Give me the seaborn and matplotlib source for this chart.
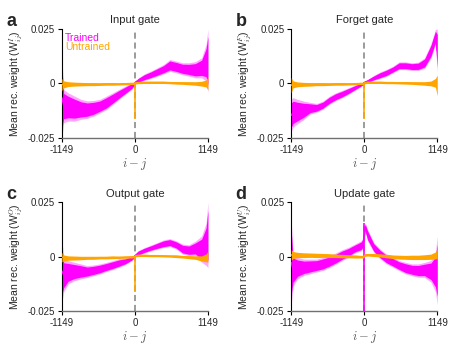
import numpy as np
import pandas as pd
import matplotlib
matplotlib.use("Agg")
import matplotlib.pyplot as plt
import seaborn as sns

x = [-1149, -1120, -1050, -950, -850, -750, -650, -550, -450, -350, -250, -150, -50, -15,
     15, 50, 150, 250, 350, 450, 550, 650, 750, 850, 950, 1050, 1120, 1149]

# trained: band low / high per gate
tr_lo = {
    "I": [-0.025, -0.018, -0.0173, -0.0173, -0.0165, -0.016, -0.015, -0.0135, -0.012, -0.0097, -0.0073,
          -0.005, -0.0027, -0.0012, 0.0004, 0.0003, 0.0014, 0.0023, 0.0033, 0.0044, 0.0056, 0.0049, 0.004,
          0.0034, 0.0026, 0.0026, 0.0011, -0.004],
    "F": [-0.022, -0.02, -0.0185, -0.0165, -0.014, -0.0132, -0.0118, -0.0096, -0.0079, -0.0066, -0.005,
          -0.0032, -0.0014, -0.0006, 0.0002, 0.0003, 0.0014, 0.0023, 0.0033, 0.0049, 0.0064, 0.0064, 0.006,
          0.006, 0.007, 0.0117, 0.018, 0.005],
    "O": [-0.021, -0.016, -0.0125, -0.011, -0.0102, -0.0095, -0.0087, -0.0079, -0.0068, -0.0059, -0.0048,
          -0.0036, -0.0018, -0.0008, 0.0001, 0.0005, 0.0017, 0.0027, 0.0035, 0.0042, 0.0047, 0.0035, 0.0012,
          0.0005, 0.0005, -0.0025, -0.004, -0.005],
    "U": [-0.022, -0.0135, -0.0102, -0.0086, -0.0078, -0.007, -0.0063, -0.005, -0.0035, -0.0018, -0.0003,
          0.0017, 0.0027, 0.004, 0.012, 0.0073, 0.002, -0.001, -0.0033, -0.0048, -0.0064, -0.0079, -0.0087,
          -0.0094, -0.0095, -0.0117, -0.016, -0.022],
}
tr_hi = {
    "I": [0.012, -0.0028, -0.0043, -0.0058, -0.0073, -0.008, -0.0078, -0.0073, -0.0058, -0.0043, -0.0027,
          -0.0012, 0.0003, 0.0004, 0.0012, 0.0025, 0.0044, 0.0057, 0.0072, 0.0087, 0.0110, 0.0103, 0.0095,
          0.0095, 0.01, 0.0118, 0.018, 0.025],
    "F": [-0.0073, -0.0065, -0.0073, -0.0081, -0.0087, -0.0092, -0.0081, -0.0059, -0.0043, -0.0032, -0.002,
          -0.0008, 0.0002, 0.0006, 0.0012, 0.0018, 0.0037, 0.0053, 0.0065, 0.0079, 0.0099, 0.0099, 0.0095,
          0.0098, 0.0118, 0.0183, 0.0248, 0.025],
    "O": [0.008, -0.001, -0.0018, -0.0026, -0.0033, -0.0041, -0.0038, -0.0033, -0.0026, -0.0018, -0.001,
          -0.0006, 0.0003, 0.0008, 0.0015, 0.0028, 0.0042, 0.0053, 0.0065, 0.0077, 0.0083, 0.0073, 0.0058,
          0.0055, 0.0071, 0.0095, 0.0155, 0.025],
    "U": [0.017, 0.0012, -0.0003, -0.0011, -0.0011, -0.0011, -0.0003, 0.0005, 0.0017, 0.0032, 0.0043,
          0.0058, 0.0073, 0.0088, 0.0155, 0.0127, 0.0065, 0.0035, 0.0012, -0.0003, -0.0018, -0.0026, -0.0033,
          -0.0033, -0.0026, -0.0017, 0.002, 0.0095],
}

# untrained: center and half width
un_mid = {
    "I": [-0.0005, -0.0004, -0.0003, -0.0003, -0.0003, -0.0003, -0.0003, -0.0003, -0.0002, -0.0002, -0.0002,
          -0.0001, 0.0, 0.0, 0.0003, 0.0004, 0.0005, 0.0005, 0.0005, 0.0005, 0.0004, 0.0003, 0.0002,
          0.0001, 0.0, -0.0001, 0.0, 0.0],
    "F": [-0.0008, -0.0004, -0.0004, -0.0004, -0.0004, -0.0003, -0.0003, -0.0003, -0.0002, -0.0002, -0.0002,
          -0.0001, 0.0, 0.0, 0.0004, 0.0005, 0.0005, 0.0005, 0.0004, 0.0004, 0.0003, 0.0003, 0.0002,
          0.0001, 0.0, 0.0, 0.0003, -0.0009],
    "O": [-0.0002, -0.0006, -0.0006, -0.0006, -0.0006, -0.0005, -0.0005, -0.0004, -0.0004, -0.0003, -0.0003,
          -0.0002, -0.0001, 0.0, 0.0005, 0.0006, 0.0006, 0.0005, 0.0005, 0.0004, 0.0003, 0.0002, 0.0,
          -0.0002, -0.0004, -0.0008, -0.0005, 0.0],
    "U": [0.0008, 0.0008, 0.0008, 0.0007, 0.0007, 0.0006, 0.0006, 0.0005, 0.0004, 0.0003, 0.0002,
          0.0001, 0.0, 0.0, 0.0008, 0.0009, 0.0008, 0.0006, 0.0003, 0.0, -0.0002, -0.0003, -0.0003,
          -0.0003, -0.0002, 0.0, 0.0006, 0.0015],
}
un_hw = {
    "I": [0.0028, 0.0016, 0.0011, 0.0009, 0.0008, 0.0007, 0.0007, 0.0006, 0.0006, 0.0006, 0.0005,
          0.0005, 0.0005, 0.0005, 0.0005, 0.0005, 0.0005, 0.0005, 0.0005, 0.0005, 0.0005, 0.0006, 0.0006,
          0.0007, 0.0008, 0.0011, 0.0016, 0.003],
    "F": [0.0035, 0.0016, 0.0011, 0.0009, 0.0008, 0.0007, 0.0007, 0.0006, 0.0006, 0.0006, 0.0005,
          0.0005, 0.0005, 0.0005, 0.0005, 0.0005, 0.0005, 0.0005, 0.0005, 0.0005, 0.0005, 0.0006, 0.0006,
          0.0007, 0.0008, 0.0011, 0.002, 0.0048],
    "O": [0.0022, 0.0014, 0.001, 0.0009, 0.0008, 0.0007, 0.0007, 0.0006, 0.0006, 0.0006, 0.0005,
          0.0005, 0.0005, 0.0005, 0.0005, 0.0005, 0.0005, 0.0005, 0.0005, 0.0005, 0.0005, 0.0006, 0.0006,
          0.0007, 0.0008, 0.0012, 0.0018, 0.0025],
    "U": [0.0025, 0.0016, 0.0012, 0.0011, 0.001, 0.001, 0.0009, 0.0009, 0.0008, 0.0008, 0.0007,
          0.0007, 0.0006, 0.0006, 0.0006, 0.0006, 0.0007, 0.0007, 0.0008, 0.0008, 0.0009, 0.0009, 0.001,
          0.001, 0.0011, 0.0012, 0.0016, 0.0025],
}

# narrow features at i - j = 0: (low, high)
trained_spike = {"I": None, "F": None, "O": None, "U": (-0.025, 0.0156)}
untrained_spike = {"I": (-0.0165, 0.0), "F": (-0.0165, 0.0), "O": (-0.0162, 0.0), "U": None}

gates = ["I", "F", "O", "U"]
titles = ["Input gate", "Forget gate", "Output gate", "Update gate"]
letters = ["a", "b", "c", "d"]

MAGENTA = "#ff00ff"
ORANGE = "#ffa500"

sns.set_style("ticks")
plt.rcParams["font.family"] = ["Liberation Sans", "DejaVu Sans"]
plt.rcParams["mathtext.fontset"] = "cm"

fig = plt.figure(figsize=(4.55, 3.5), dpi=100)
boxes = [(0.136, 0.606), (0.640, 0.606), (0.136, 0.111), (0.640, 0.111)]
W, H = 0.321, 0.311

for k, g in enumerate(gates):
    ax = fig.add_axes([boxes[k][0], boxes[k][1], W, H])
    ax.axvline(0, color="#808080", ls=(0, (4, 2.5)), lw=1.1, zorder=1)

    lo = np.array(tr_lo[g]); hi = np.array(tr_hi[g])
    ax.fill_between(x, lo, hi, color=MAGENTA, alpha=0.35, lw=0, zorder=2)
    ax.fill_between(x, lo + (hi - lo) * 0.12, hi - (hi - lo) * 0.12,
                    color=MAGENTA, lw=0, zorder=2)
    df_t = pd.DataFrame({"x": x, "y": (lo + hi) / 2})
    sns.lineplot(data=df_t, x="x", y="y", color=MAGENTA, lw=1.0, ax=ax, zorder=3)
    if trained_spike[g]:
        ax.vlines(0, *trained_spike[g], color=MAGENTA, lw=1.2, zorder=3)

    mid = np.array(un_mid[g]); hw = np.array(un_hw[g])
    ax.fill_between(x, mid - hw, mid + hw, color=ORANGE, lw=0, zorder=4)
    df_u = pd.DataFrame({"x": x, "y": mid})
    sns.lineplot(data=df_u, x="x", y="y", color=ORANGE, lw=1.0, ax=ax, zorder=5)
    if untrained_spike[g]:
        ax.vlines(0, *untrained_spike[g], color=ORANGE, lw=1.2, zorder=5)

    ax.set_xlim(-1149, 1149)
    ax.set_ylim(-0.025, 0.025)
    ax.set_xticks([-1149, 0, 1149])
    ax.set_xticklabels(["-1149", "0", "1149"])
    ax.set_yticks([-0.025, 0, 0.025])
    ax.set_yticklabels(["-0.025", "0", "0.025"])
    ax.tick_params(labelsize=7, length=3, width=0.8, pad=2, color="black")
    sns.despine(ax=ax)
    ax.spines["left"].set_color("black")
    ax.spines["left"].set_linewidth(0.8)
    ax.spines["bottom"].set_color("#707070")
    ax.spines["bottom"].set_linewidth(1.0)
    ax.set_xlabel("$i - j$", fontsize=9, color="#555555", labelpad=1)
    ax.set_ylabel("Mean rec. weight (W$^{%s}_{ij}$)" % g, fontsize=7.5, labelpad=2)
    ax.set_title(titles[k], fontsize=8, pad=4)
    ax.text(-0.38, 1.15, letters[k], transform=ax.transAxes, fontsize=13,
            fontweight="bold", va="top", ha="left")

    if k == 0:
        ax.text(0.02, 0.96, "Trained", color=MAGENTA, fontsize=7.5,
                transform=ax.transAxes, va="top")
        ax.text(0.02, 0.88, "Untrained", color=ORANGE, fontsize=7.5,
                transform=ax.transAxes, va="top")

fig.savefig("out.png", dpi=100)
